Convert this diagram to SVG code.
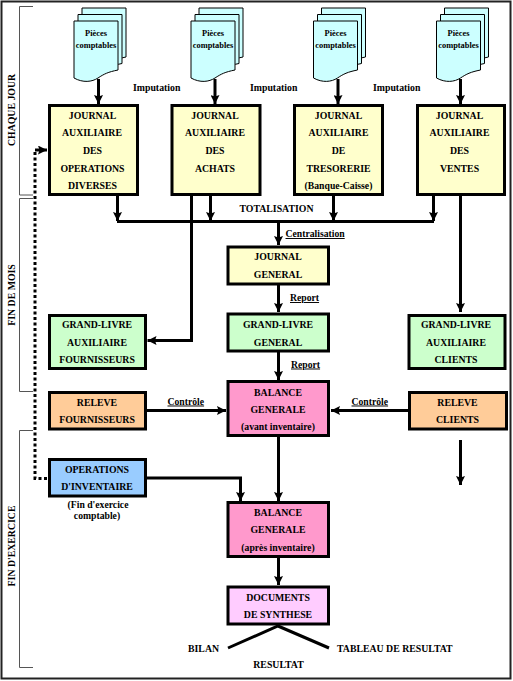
<svg xmlns="http://www.w3.org/2000/svg" xmlns:xlink="http://www.w3.org/1999/xlink" width="513" height="681" viewBox="0 0 513 681">
<style>
text{font-family:"Liberation Serif","Times New Roman",serif;font-weight:bold;font-size:9.8px;fill:#000;text-anchor:middle}
.s{font-size:8.4px}
.m{font-size:9.7px}
.i{font-size:9.8px}
.st{text-anchor:start}
.u{text-decoration:underline}
.b{stroke:#000;stroke-width:3}
.y{fill:#FFFFCC}.g{fill:#CCFFCC}.o{fill:#FFCC99}.p{fill:#FF99CC}.l{fill:#99CCFF}.v{fill:#FFCCFF}
.c{fill:none;stroke:#000;stroke-width:3}
.a{marker-end:url(#ah)}
.br{fill:none;stroke:#555;stroke-width:1}
.d{fill:#CCFFFF;stroke:#000;stroke-width:1}
</style>
<defs>
<marker id="ah" markerUnits="userSpaceOnUse" markerWidth="9" markerHeight="9" refX="9" refY="4.5" orient="auto"><path d="M0,0L9,4.5L0,9L1.5,4.5Z" fill="#000"/></marker>
<path id="doc" d="M0,0H44V49C34,51 30,53 24,57C18,61 9,62 0,57Z"/>
<g id="stack">
<use xlink:href="#doc" href="#doc" class="d" transform="translate(8,-13) "/>
<use xlink:href="#doc" href="#doc" class="d" transform="translate(4,-6.5)"/>
<use xlink:href="#doc" href="#doc" class="d"/>
</g>
</defs>
<rect id="frame" x="1.5" y="1.5" width="509" height="677" fill="#fff" stroke="#222" stroke-width="2"/>
<g id="periods">
<path class="br" d="M33,6.5H19.5V195H33"/>
<path class="br" d="M33,198.5H19.5V391.5H33"/>
<path class="br" d="M33,430.5H19.5V667.5H33"/>
<text transform="translate(15,110) rotate(-90)">CHAQUE JOUR</text>
<text transform="translate(15,295) rotate(-90)">FIN DE MOIS</text>
<text transform="translate(15,546) rotate(-90)">FIN D'EXERCICE</text>
</g>
<g id="doc1"><use xlink:href="#stack" href="#stack" x="74" y="21"/><text class="s" x="96" y="36">Pièces</text><text class="s" x="96" y="47.5">comptables</text></g>
<g id="doc2"><use xlink:href="#stack" href="#stack" x="191" y="21"/><text class="s" x="213" y="36">Pièces</text><text class="s" x="213" y="47.5">comptables</text></g>
<g id="doc3"><use xlink:href="#stack" href="#stack" x="313.5" y="21"/><text class="s" x="335.5" y="36">Pièces</text><text class="s" x="335.5" y="47.5">comptables</text></g>
<g id="doc4"><use xlink:href="#stack" href="#stack" x="436.5" y="21"/><text class="s" x="458.5" y="36">Pièces</text><text class="s" x="458.5" y="47.5">comptables</text></g>
<g id="connectors">
<path class="c a" d="M98.5,79V104"/>
<path class="c a" d="M215,79V104"/>
<path class="c a" d="M338,79V104"/>
<path class="c a" d="M460.5,79V104"/>
<path class="c a" d="M117.5,196V221"/>
<path class="c a" d="M210.5,196V221"/>
<path class="c a" d="M333.5,196V221"/>
<path class="c a" d="M433.5,196V221"/>
<path class="c" d="M117,221.5H434"/>
<path class="c a" d="M191.5,196V340.5H147.5"/>
<path class="c a" d="M460.5,196V312"/>
<path class="c a" d="M278.5,221V245"/>
<path class="c a" d="M278.5,285V312"/>
<path class="c a" d="M278.5,352V380"/>
<path class="c a" d="M278.5,437V501"/>
<path class="c a" d="M278.5,558V585"/>
<path class="c a" d="M147,410.5H226"/>
<path class="c a" d="M408,410.5H331"/>
<path class="c a" d="M460.5,440V485"/>
<path class="c a" d="M147,478H240.5V501"/>
<path class="c" d="M47,478.5H35V150" stroke-dasharray="3 2.5"/>
<path class="c a" d="M35,150H47"/>
<path class="c" d="M228,648L278,626L329,648"/>
</g>
<g id="j1"><rect class="b y" x="49.5" y="105.5" width="88" height="89"/><text x="92.5" y="119">JOURNAL</text><text x="92" y="136">AUXILIAIRE</text><text x="92.5" y="154">DES</text><text x="92.5" y="171.5">OPERATIONS</text><text x="92.5" y="189">DIVERSES</text></g>
<g id="j2"><rect class="b y" x="172" y="105.5" width="88" height="89"/><text x="215" y="119">JOURNAL</text><text x="215" y="136">AUXILIAIRE</text><text x="215" y="154">DES</text><text x="215" y="171.5">ACHATS</text></g>
<g id="j3"><rect class="b y" x="294.5" y="105.5" width="88" height="89"/><text x="338.5" y="119">JOURNAL</text><text x="338.5" y="136">AUXILIAIRE</text><text x="338.5" y="154">DE</text><text x="338.5" y="171.5">TRESORERIE</text><text class="m" x="338.5" y="189">(Banque-Caisse)</text></g>
<g id="j4"><rect class="b y" x="417.5" y="105.5" width="87" height="89"/><text x="459.5" y="119">JOURNAL</text><text x="459.5" y="136">AUXILIAIRE</text><text x="459.5" y="154">DES</text><text x="459.5" y="171.5">VENTES</text></g>
<g id="jg"><rect class="b y" x="228" y="247" width="100.5" height="37"/><text x="278" y="260">JOURNAL</text><text x="278" y="278">GENERAL</text></g>
<g id="glg"><rect class="b g" x="228" y="314" width="100.5" height="37"/><text x="278" y="327.5">GRAND-LIVRE</text><text x="278" y="345.5">GENERAL</text></g>
<g id="bal1"><rect class="b p" x="228" y="381.5" width="100.5" height="54"/><text x="278" y="395.5">BALANCE</text><text x="278" y="412.5">GENERALE</text><text class="m" x="278" y="430">(avant inventaire)</text></g>
<g id="bal2"><rect class="b p" x="228" y="502.5" width="100.5" height="54"/><text x="278" y="516">BALANCE</text><text x="278" y="533">GENERALE</text><text class="m" x="278" y="551">(après inventaire)</text></g>
<g id="syn"><rect class="b v" x="228" y="587" width="100.5" height="37"/><text x="278" y="600.5">DOCUMENTS</text><text x="278" y="618">DE SYNTHESE</text></g>
<g id="glf"><rect class="b g" x="49.5" y="315.5" width="96" height="53"/><text x="97" y="328">GRAND-LIVRE</text><text x="97" y="346">AUXILIAIRE</text><text x="97" y="363">FOURNISSEURS</text></g>
<g id="glc"><rect class="b g" x="409" y="315.5" width="96" height="53"/><text x="456" y="328">GRAND-LIVRE</text><text x="456" y="346">AUXILIAIRE</text><text x="456" y="363">CLIENTS</text></g>
<g id="rf"><rect class="b o" x="49.5" y="392.5" width="96" height="36.5"/><text x="97" y="406">RELEVE</text><text x="97" y="423">FOURNISSEURS</text></g>
<g id="rc"><rect class="b o" x="409.5" y="392.5" width="97" height="36.5"/><text x="457.5" y="406">RELEVE</text><text x="457.5" y="423">CLIENTS</text></g>
<g id="inv"><rect class="b l" x="49.5" y="459.5" width="96" height="36.5"/><text x="97" y="473">OPERATIONS</text><text x="97" y="490">D'INVENTAIRE</text></g>
<g id="labels">
<text class="i st" x="133" y="91">Imputation</text>
<text class="i st" x="250" y="91">Imputation</text>
<text class="i st" x="373" y="91">Imputation</text>
<text x="276.5" y="212">TOTALISATION</text>
<text class="m st u" x="285.5" y="237">Centralisation</text>
<text class="m st u" x="290" y="301">Report</text>
<text class="m st u" x="291" y="367.5">Report</text>
<text class="m st u" x="167.5" y="404.5">Contrôle</text>
<text class="m st u" x="351.5" y="404.5">Contrôle</text>
<text class="m" x="98" y="507.5">(Fin d'exercice</text>
<text class="m" x="97" y="519">comptable)</text>
<text class="st" x="188" y="652">BILAN</text>
<text class="st" x="337" y="652">TABLEAU DE RESULTAT</text>
<text x="278.5" y="668">RESULTAT</text>
</g>
</svg>
